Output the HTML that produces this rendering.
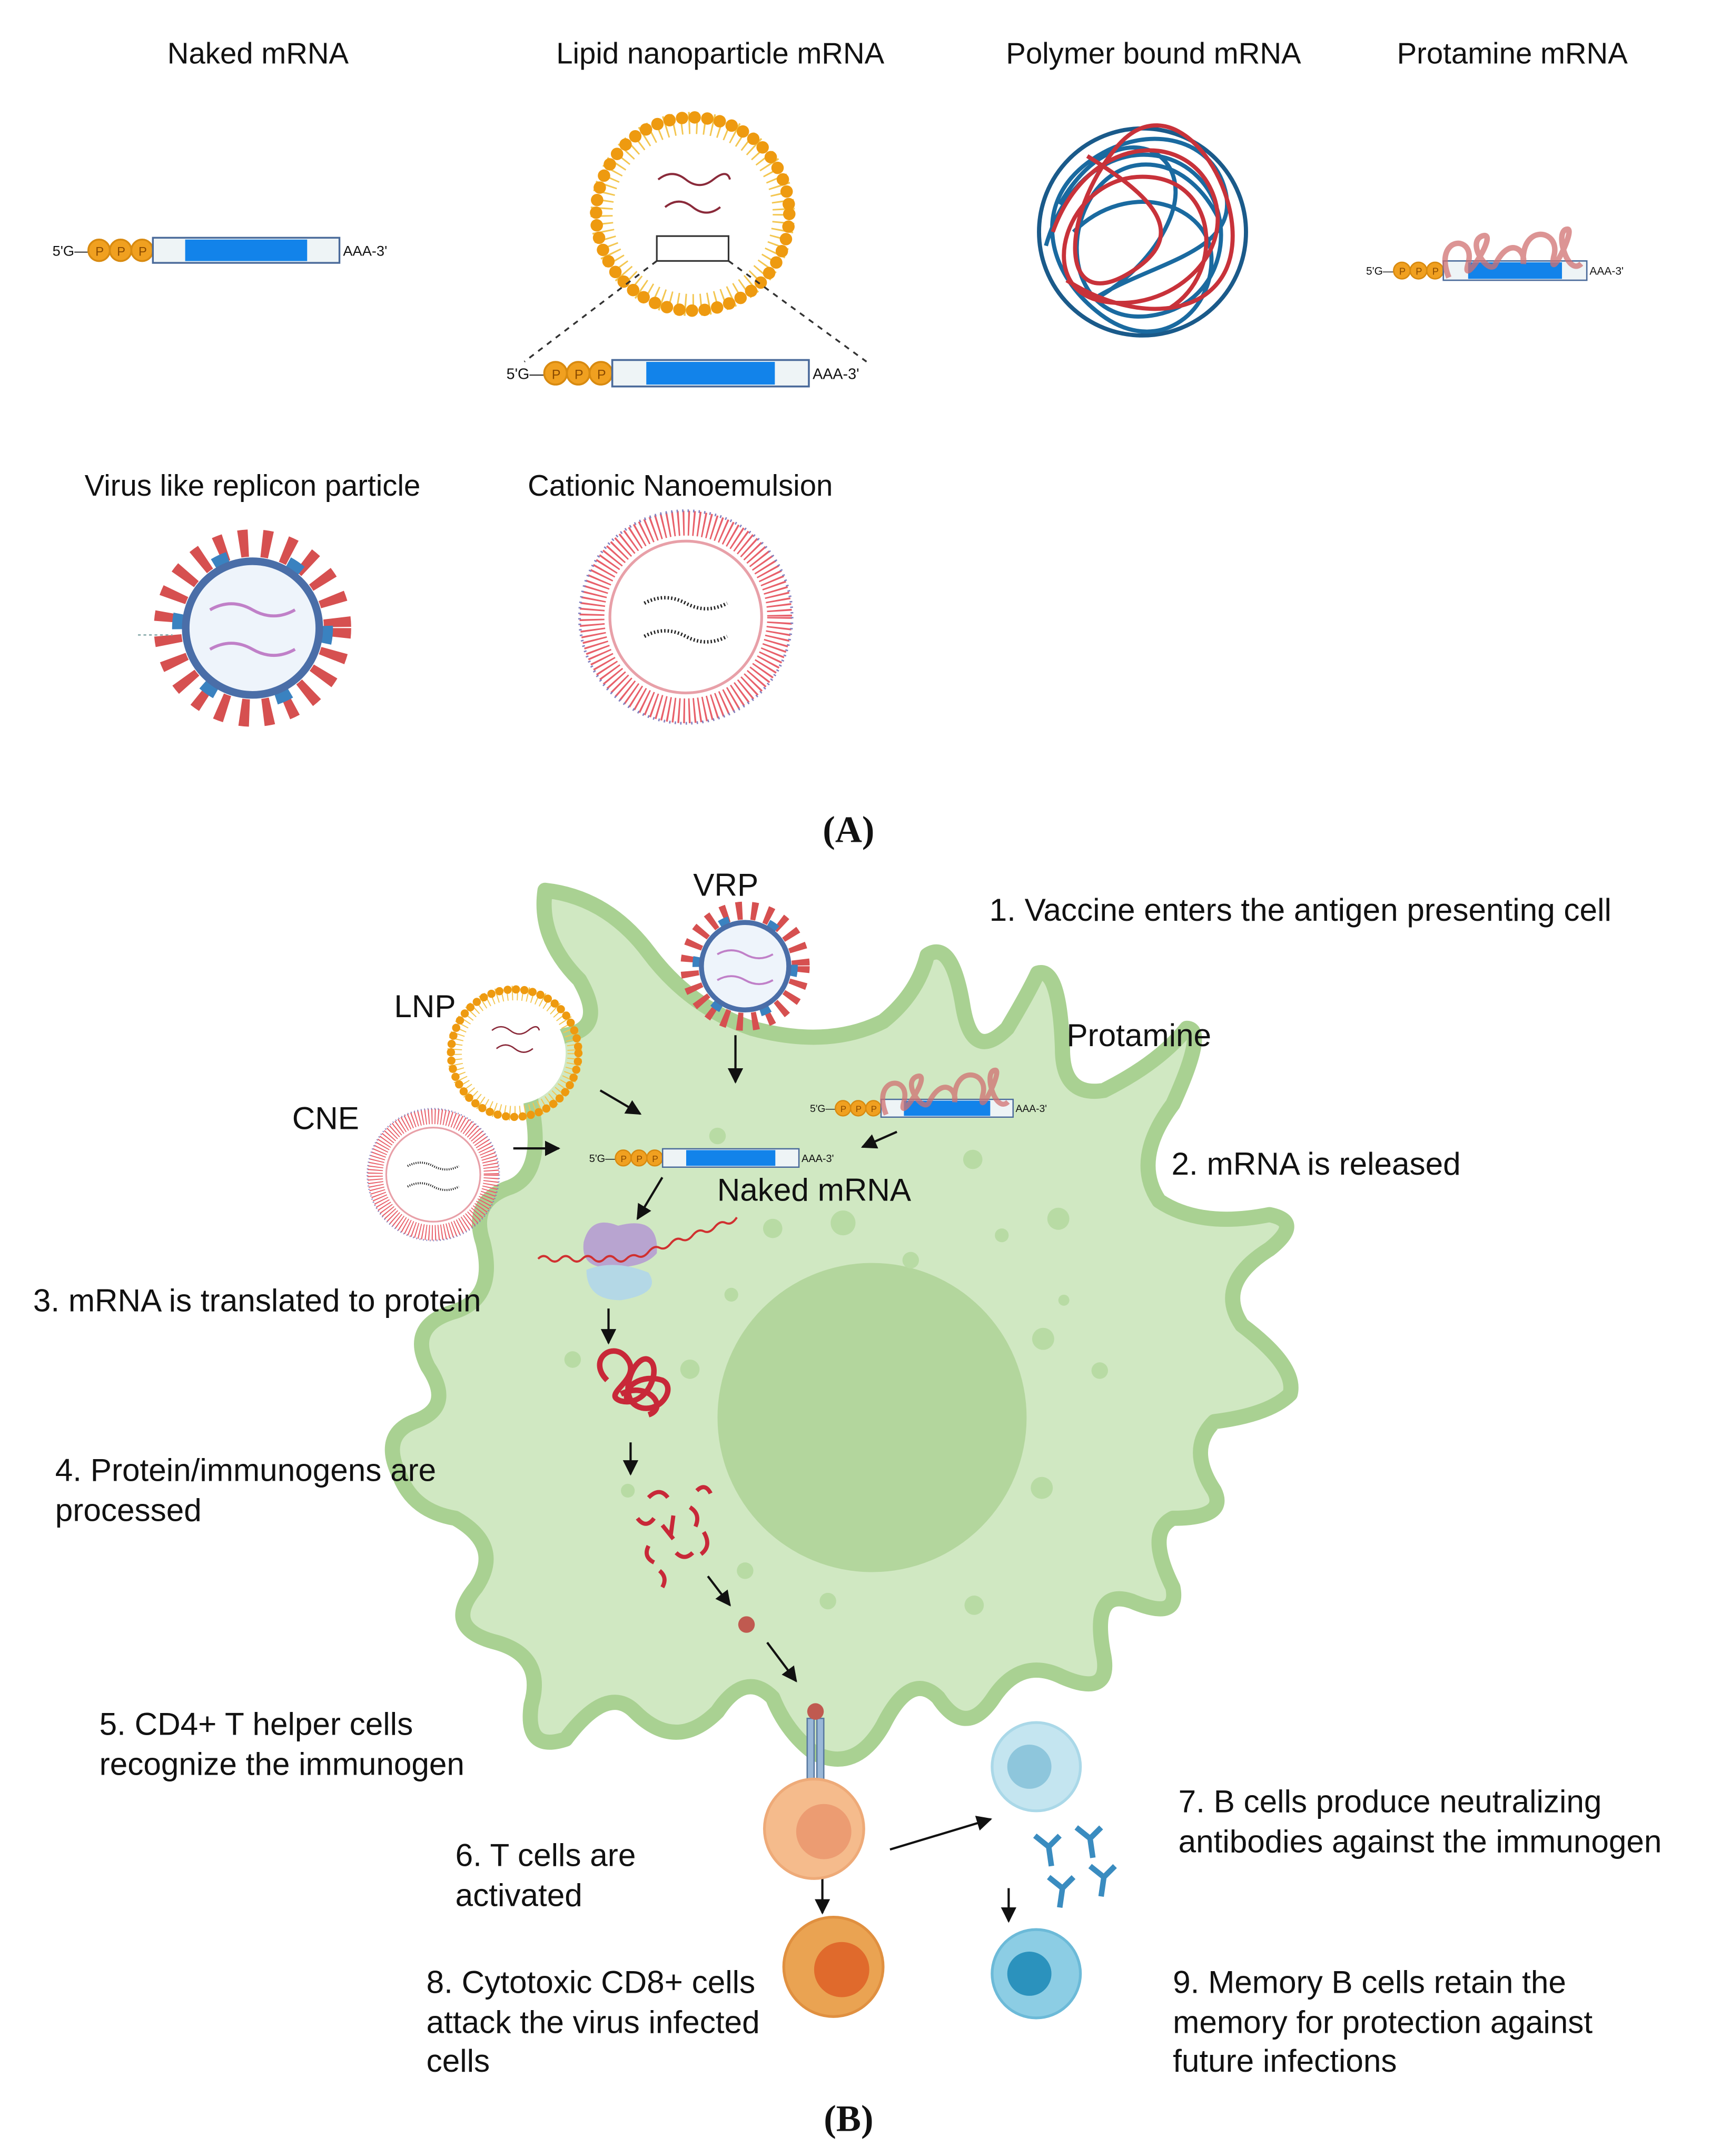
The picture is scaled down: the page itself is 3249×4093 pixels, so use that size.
<!DOCTYPE html>
<html><head><meta charset="utf-8">
<style>
html,body{margin:0;padding:0;background:#fff}
svg{display:block}
text{font-family:"Liberation Sans",sans-serif;fill:#111}
.t{font-size:21.5px}
.b{font-size:23px}
.s{font-size:8px}
.p{font-size:7px;fill:#8a4a00}
</style></head><body>
<svg width="3249" height="4093" viewBox="0 0 1240 1562" xmlns="http://www.w3.org/2000/svg">
<defs>
<marker id="ah" viewBox="0 0 10 10" refX="9" refY="5" markerWidth="7" markerHeight="7" orient="auto"><path d="M0,0 L10,5 L0,10 z" fill="#111"/></marker>
<g id="strand">
 <text x="0" y="4" class="s">5'G—</text>
 <circle cx="26" cy="1" r="6" fill="#f0a020" stroke="#d88a10"/>
 <circle cx="38" cy="1" r="6" fill="#f0a020" stroke="#d88a10"/>
 <circle cx="50" cy="1" r="6" fill="#f0a020" stroke="#d88a10"/>
 <text x="24" y="4" class="p">P</text><text x="36" y="4" class="p">P</text><text x="48" y="4" class="p">P</text>
 <rect x="56" y="-6" width="104" height="14" fill="#eef4f6" stroke="#4a6a9a"/>
 <rect x="74" y="-5" width="68" height="12" fill="#1283ea"/>
 <text x="162" y="4" class="s">AAA-3'</text>
</g>
<g id="lnp">
 <circle r="66" fill="none" stroke="#f3c650" stroke-width="16" stroke-dasharray="1.2 4.5"/>
 <circle r="70" fill="none" stroke="#ee9a10" stroke-width="9" stroke-dasharray="0 9.2" stroke-linecap="round"/>
 <circle r="56" fill="#fff"/>
 <path d="M-25,-25 q10,-8 20,0 t20,0 t12,0 M-20,-5 q10,-8 20,0 t20,0" stroke="#8a2a3a" stroke-width="1.5" fill="none"/>
</g>
<g id="vrp">
 <circle r="56" fill="none" stroke="#d65050" stroke-width="18" stroke-dasharray="6 9"/>
 <circle r="48" fill="none" stroke="#3a82c0" stroke-width="10" stroke-dasharray="10 40"/>
 <circle r="44" fill="#eef4fb" stroke="#4a6ea8" stroke-width="5"/>
 <path d="M-28,-12 q14,-8 28,0 t28,0 M-28,14 q14,-8 28,0 t28,0" stroke="#c080c8" stroke-width="2" fill="none"/>
</g>
<g id="cne">
 <circle r="68" fill="none" stroke="#e8606a" stroke-width="18" stroke-dasharray="1.2 2.5"/>
 <circle r="77" fill="none" stroke="#8080c0" stroke-width="2" stroke-dasharray="1 3"/>
 <circle r="55" fill="#fff" stroke="#e8a0a8" stroke-width="2"/>
 <path d="M-30,-10 q15,-8 30,0 t30,0 M-30,14 q15,-8 30,0 t30,0" stroke="#222" stroke-width="2.5" fill="none" stroke-dasharray="1 1.5"/>
</g>
<g id="prot">
 <use href="#strand"/>
 <path d="M60,6 c-12,-30 20,-32 14,-10 c-6,20 24,-25 10,-20 c-12,5 6,30 10,20 c10,-20 22,-10 20,0 c-2,-30 28,-25 22,-5 c-4,20 16,-20 10,-20 c-10,0 0,35 10,25" stroke="#d07070" stroke-opacity=".75" stroke-width="4" fill="none"/>
</g>
</defs>

<text x="187" y="46" class="t" text-anchor="middle">Naked mRNA</text>
<text x="522" y="46" class="t" text-anchor="middle">Lipid nanoparticle mRNA</text>
<text x="836" y="46" class="t" text-anchor="middle">Polymer bound mRNA</text>
<text x="1096" y="46" class="t" text-anchor="middle">Protamine mRNA</text>

<g transform="translate(38,180) scale(1.3)"><use href="#strand"/></g>
<g transform="translate(502,155)"><use href="#lnp"/></g>
<rect x="476" y="171" width="52" height="18" fill="none" stroke="#333" stroke-width="1.2"/>
<path d="M476,189 L380,262 M528,189 L628,262" stroke="#333" stroke-width="1.3" stroke-dasharray="4 4"/>
<g transform="translate(367,269) scale(1.37)"><use href="#strand"/></g>

<g transform="translate(828,168)">
 <circle r="75" fill="#fff" stroke="#1a5a8a" stroke-width="3"/>
 <path d="M-60,-20 C-20,-90 40,-60 20,-10 S-60,60 -20,40 S70,10 60,-30 S0,-80 -40,-50 S-70,30 -30,60 S50,60 50,20 S-10,-40 -50,0 M-70,10 C-50,-60 10,-70 40,-40 S60,50 10,60 S-60,20 -40,-20 S30,-60 55,-10" stroke="#1a6aa0" stroke-width="3" fill="none"/>
 <path d="M-65,0 C-40,-70 30,-75 50,-30 S20,60 -30,50 S-55,-40 0,-40 S60,30 20,55 M-40,-55 C0,-30 40,0 -10,30 S-60,-10 -20,-60 S70,-40 65,10 S0,70 -55,35" stroke="#c8323a" stroke-width="3" fill="none"/>
</g>
<g transform="translate(990,195) scale(1.0)"><use href="#prot"/></g>

<text x="183" y="359" class="t" text-anchor="middle">Virus like replicon particle</text>
<text x="493" y="359" class="t" text-anchor="middle">Cationic Nanoemulsion</text>
<g transform="translate(183,455) scale(1.1)"><use href="#vrp"/></g>
<line x1="100" y1="460" x2="125" y2="460" stroke="#8aa" stroke-dasharray="2 2"/>
<g transform="translate(497,447)"><use href="#cne"/></g>

<text x="615" y="610" text-anchor="middle" style="font-family:'Liberation Serif',serif;font-size:27px;font-weight:bold">(A)</text>

<path d="M395,645 Q440,650 470,690 Q500,730 545,745 Q600,760 640,740 Q665,720 672,692 Q690,680 698,730 Q705,770 730,745 Q745,720 752,705 Q768,700 770,760 Q770,795 800,790 Q840,770 860,745 Q875,745 850,800 Q820,840 840,870 Q870,890 920,880 Q945,885 920,905 Q880,930 900,960 Q940,990 935,1010 Q920,1025 880,1030 Q860,1050 880,1080 Q890,1100 850,1100 Q830,1110 850,1150 Q855,1175 820,1160 Q790,1150 800,1200 Q805,1230 770,1215 Q740,1200 720,1230 Q700,1260 680,1230 Q660,1210 640,1250 Q620,1285 590,1270 Q570,1255 560,1230 Q540,1210 520,1240 Q490,1270 460,1240 Q440,1220 410,1260 Q380,1270 385,1235 Q395,1200 360,1190 Q320,1180 345,1150 Q365,1120 330,1100 Q300,1095 290,1070 Q275,1040 300,1030 Q330,1020 310,990 Q295,960 330,950 Q360,940 350,900 Q340,870 370,860 Q395,850 385,800 Q380,760 410,750 Q440,745 420,710 Q390,680 395,645 Z" fill="#d0e8c2" stroke="#a9d192" stroke-width="11" stroke-linejoin="round"/>
<circle cx="632" cy="1027" r="112" fill="#b3d69d"/>
<g fill="#b8dba4">
<circle cx="520" cy="823" r="6"/><circle cx="705" cy="840" r="7"/><circle cx="767" cy="883" r="8"/><circle cx="611" cy="886" r="9"/><circle cx="660" cy="913" r="6"/><circle cx="726" cy="895" r="5"/><circle cx="530" cy="938" r="5"/><circle cx="771" cy="942" r="4"/><circle cx="756" cy="970" r="8"/><circle cx="797" cy="993" r="6"/><circle cx="500" cy="992" r="7"/><circle cx="755" cy="1078" r="8"/><circle cx="455" cy="1080" r="5"/><circle cx="540" cy="1138" r="6"/><circle cx="600" cy="1160" r="6"/><circle cx="706" cy="1163" r="7"/><circle cx="415" cy="985" r="6"/><circle cx="560" cy="890" r="7"/></g>

<g transform="translate(540,700) scale(0.72)"><use href="#vrp"/></g>
<g transform="translate(373,763) scale(0.66)"><use href="#lnp"/></g>
<g transform="translate(314,851) scale(0.62)"><use href="#cne"/></g>
<g transform="translate(427,838) scale(0.95)"><use href="#strand"/></g>
<g transform="translate(587,802) scale(0.92)"><use href="#prot"/></g>

<path d="M423,900 q5,-20 25,-12 q30,-8 28,20 q-10,12 -40,10 q-15,-2 -13,-18z" fill="#b8a4d0"/>
<path d="M425,920 q20,-8 45,2 q10,15 -20,20 q-25,0 -25,-22z" fill="#b4d8e6"/>
<path d="M390,912 q4,-4 8,0 t8,0 t8,0 t8,0 t8,0 t8,0 t8,0 t8,0 t8,-2 t8,-3 t8,-3 t8,-3 t8,-3 t8,-3 t8,-3 t8,-3 t8,-3 t8,-4" stroke="#d03030" stroke-width="1.5" fill="none"/>
<path d="M440,1000 c-15,-15 5,-30 15,-15 c10,15 -20,25 -5,30 c20,5 30,-25 20,-30 c-10,-5 -25,30 -5,35 c15,3 25,-15 15,-20 c-15,-5 -30,5 -25,15 M450,1010 c20,-10 35,10 20,15" stroke="#c82838" stroke-width="4" fill="none"/>
<g stroke="#c82838" stroke-width="3" fill="none">
<path d="M470,1085 q8,-8 14,0"/><path d="M462,1100 q6,8 12,0"/><path d="M480,1105 l8,10 M488,1098 l-2,15"/><path d="M500,1092 q8,5 4,14"/><path d="M510,1110 q6,10 -2,16"/><path d="M470,1120 q-4,8 4,12"/><path d="M490,1125 q6,6 12,0"/><path d="M478,1138 q6,5 2,12"/><path d="M505,1080 q6,-6 10,2"/></g>
<circle cx="541" cy="1177" r="6" fill="#c05a50"/>

<rect x="585" y="1245" width="5" height="45" fill="#9ab8d8" stroke="#5a7aa0" stroke-width="1"/>
<rect x="592" y="1245" width="5" height="45" fill="#9ab8d8" stroke="#5a7aa0" stroke-width="1"/>
<circle cx="591" cy="1240" r="6" fill="#c05a50"/>

<g stroke="#111" stroke-width="1.6" marker-end="url(#ah)">
<line x1="533" y1="750" x2="533" y2="784"/>
<line x1="435" y1="790" x2="464" y2="807"/>
<line x1="372" y1="832" x2="405" y2="832"/>
<line x1="650" y1="820" x2="625" y2="831"/>
<line x1="480" y1="853" x2="462" y2="883"/>
<line x1="441" y1="948" x2="441" y2="973"/>
<line x1="457" y1="1045" x2="457" y2="1068"/>
<line x1="513" y1="1142" x2="529" y2="1163"/>
<line x1="556" y1="1190" x2="577" y2="1218"/>
<line x1="645" y1="1340" x2="718" y2="1318"/>
<line x1="596" y1="1360" x2="596" y2="1386"/>
<line x1="731" y1="1368" x2="731" y2="1392"/>
</g>

<circle cx="590" cy="1325" r="36" fill="#f5bb8c" stroke="#eeaa78" stroke-width="2"/><circle cx="597" cy="1327" r="20" fill="#ec9c72"/>
<circle cx="604" cy="1425" r="36" fill="#eaa352" stroke="#e09040" stroke-width="2"/><circle cx="610" cy="1427" r="20" fill="#e06a2c"/>
<circle cx="751" cy="1280" r="32" fill="#c4e5f0" stroke="#aad8e8" stroke-width="2"/><circle cx="746" cy="1280" r="16" fill="#8ec6dc"/>
<circle cx="751" cy="1430" r="32" fill="#8ccde4" stroke="#6cbad8" stroke-width="2"/><circle cx="746" cy="1430" r="16" fill="#2b92bd"/>
<g stroke="#3a8cc0" stroke-width="4" fill="none">
<path d="M760,1338 l-10,-8 M760,1338 l8,-8 M760,1338 l2,14"/>
<path d="M790,1332 l-10,-8 M790,1332 l8,-8 M790,1332 l2,14"/>
<path d="M770,1368 l-10,-8 M770,1368 l8,-8 M770,1368 l-2,14"/>
<path d="M800,1360 l-10,-8 M800,1360 l8,-8 M800,1360 l-2,14"/>
</g>

<text x="526" y="649" class="b" text-anchor="middle">VRP</text>
<text x="717" y="667" class="b">1. Vaccine enters the antigen presenting cell</text>
<text x="308" y="737" class="b" text-anchor="middle">LNP</text>
<text x="773" y="758" class="b">Protamine</text>
<text x="236" y="818" class="b" text-anchor="middle">CNE</text>
<text x="849" y="851" class="b">2. mRNA is released</text>
<text x="590" y="870" class="b" text-anchor="middle">Naked mRNA</text>
<text x="24" y="950" class="b">3. mRNA is translated to protein</text>
<text x="40" y="1073" class="b">4. Protein/immunogens are</text>
<text x="40" y="1102" class="b">processed</text>
<text x="72" y="1257" class="b">5. CD4+ T helper cells</text>
<text x="72" y="1286" class="b">recognize the immunogen</text>
<text x="330" y="1352" class="b">6. T cells are</text>
<text x="330" y="1381" class="b">activated</text>
<text x="854" y="1313" class="b">7. B cells produce neutralizing</text>
<text x="854" y="1342" class="b">antibodies against the immunogen</text>
<text x="309" y="1444" class="b">8. Cytotoxic CD8+ cells</text>
<text x="309" y="1473" class="b">attack the virus infected</text>
<text x="309" y="1501" class="b">cells</text>
<text x="850" y="1444" class="b">9. Memory B cells retain the</text>
<text x="850" y="1473" class="b">memory for protection against</text>
<text x="850" y="1501" class="b">future infections</text>
<text x="615" y="1544" text-anchor="middle" style="font-family:'Liberation Serif',serif;font-size:27px;font-weight:bold">(B)</text>
</svg>
</body></html>
